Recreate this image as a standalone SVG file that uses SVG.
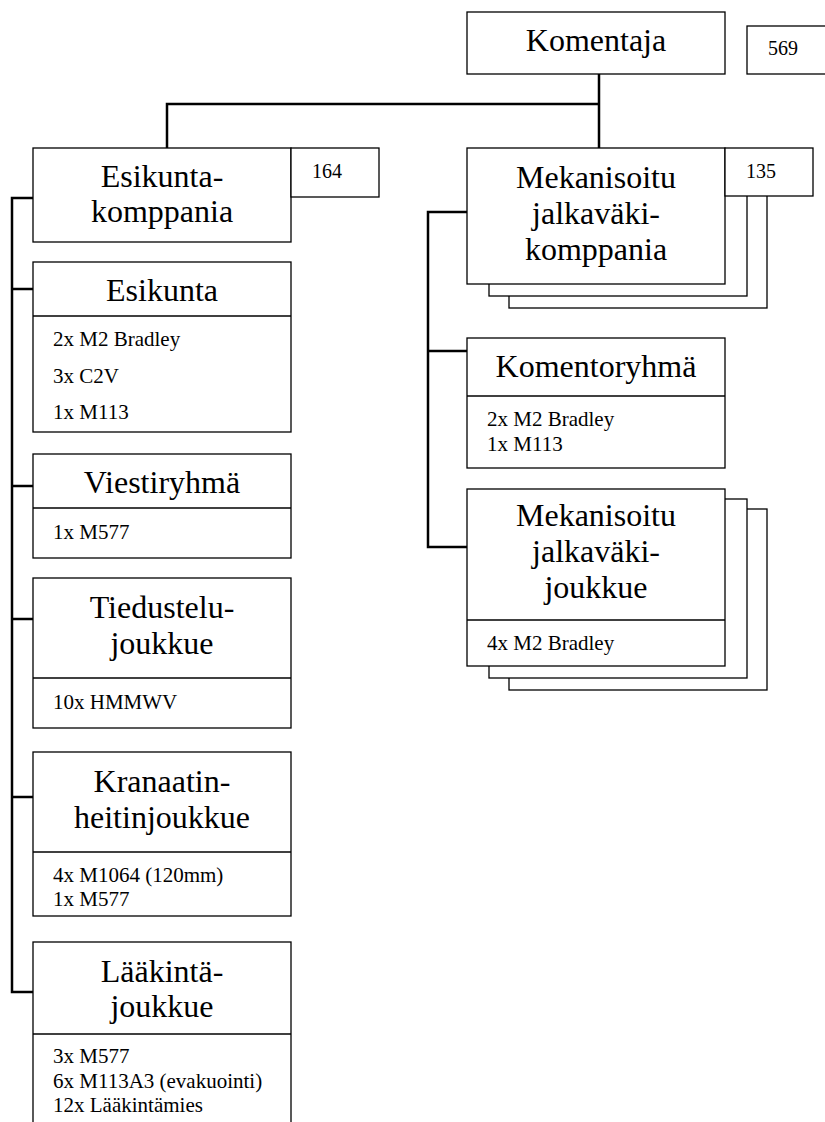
<svg xmlns="http://www.w3.org/2000/svg" width="825" height="1122" viewBox="0 0 825 1122">
<style>
.box{fill:#fff;stroke:#000;stroke-width:1.3}
.div{stroke:#000;stroke-width:1.3}
.con{fill:none;stroke:#000;stroke-width:2.5;stroke-linecap:square}
.t{font-family:"Liberation Serif","Times New Roman",serif;font-size:32px;text-anchor:middle;fill:#000}
.i{font-family:"Liberation Serif","Times New Roman",serif;font-size:21px;fill:#000}
.n{font-family:"Liberation Serif","Times New Roman",serif;font-size:20px;fill:#000}
</style>
<rect width="825" height="1122" fill="#fff"/>
<g id="connectors">
<path class="con" d="M599,74 V148 M167,104 H599 M167,104 V148"/>
<path class="con" d="M12,198 V992 M12,198 H33 M12,289 H33 M12,486 H33 M12,619 H33 M12,797 H33 M12,992 H33"/>
<path class="con" d="M428,212 V547 M428,212 H467 M428,351 H467 M428,547 H467"/>
</g>
<g id="komentaja">
<rect class="box" x="467" y="12" width="258" height="62"/>
<text class="t" x="596" y="51">Komentaja</text>
</g>
<g id="n569">
<rect class="box" x="747" y="26" width="88" height="48"/>
<text class="n" x="768" y="55">569</text>
</g>
<g id="esikuntakomppania">
<rect class="box" x="33" y="148" width="258" height="94"/>
<text class="t" x="162" y="187">Esikunta-</text>
<text class="t" x="162" y="222">komppania</text>
</g>
<g id="n164">
<rect class="box" x="291" y="148" width="88" height="49"/>
<text class="n" x="312" y="178">164</text>
</g>
<g id="mekkomppania">
<rect class="box" x="509" y="172" width="258" height="136"/>
<rect class="box" x="489" y="160" width="258" height="136"/>
<rect class="box" x="467" y="148" width="258" height="136"/>
<text class="t" x="596" y="188">Mekanisoitu</text>
<text class="t" x="596" y="224">jalkaväki-</text>
<text class="t" x="596" y="260">komppania</text>
</g>
<g id="n135">
<rect class="box" x="725" y="148" width="88" height="48"/>
<text class="n" x="746" y="178">135</text>
</g>
<g id="esikunta">
<rect class="box" x="33" y="262" width="258" height="170"/>
<line class="div" x1="33" y1="316" x2="291" y2="316"/>
<text class="t" x="162" y="301">Esikunta</text>
<text class="i" x="53" y="346">2x M2 Bradley</text>
<text class="i" x="53" y="383">3x C2V</text>
<text class="i" x="53" y="419">1x M113</text>
</g>
<g id="viestiryhma">
<rect class="box" x="33" y="454" width="258" height="104"/>
<line class="div" x1="33" y1="508" x2="291" y2="508"/>
<text class="t" x="162" y="493">Viestiryhmä</text>
<text class="i" x="53" y="539">1x M577</text>
</g>
<g id="tiedustelu">
<rect class="box" x="33" y="578" width="258" height="150"/>
<line class="div" x1="33" y1="678" x2="291" y2="678"/>
<text class="t" x="162" y="618">Tiedustelu-</text>
<text class="t" x="162" y="654">joukkue</text>
<text class="i" x="53" y="709">10x HMMWV</text>
</g>
<g id="kranaatin">
<rect class="box" x="33" y="752" width="258" height="164"/>
<line class="div" x1="33" y1="852" x2="291" y2="852"/>
<text class="t" x="162" y="792">Kranaatin-</text>
<text class="t" x="162" y="828">heitinjoukkue</text>
<text class="i" x="53" y="882">4x M1064 (120mm)</text>
<text class="i" x="53" y="906">1x M577</text>
</g>
<g id="laakinta">
<rect class="box" x="33" y="942" width="258" height="200"/>
<line class="div" x1="33" y1="1034" x2="291" y2="1034"/>
<text class="t" x="162" y="982">Lääkintä-</text>
<text class="t" x="162" y="1017">joukkue</text>
<text class="i" x="53" y="1063">3x M577</text>
<text class="i" x="53" y="1088">6x M113A3 (evakuointi)</text>
<text class="i" x="53" y="1112">12x Lääkintämies</text>
</g>
<g id="komentoryhma">
<rect class="box" x="467" y="338" width="258" height="130"/>
<line class="div" x1="467" y1="396" x2="725" y2="396"/>
<text class="t" x="596" y="377">Komentoryhmä</text>
<text class="i" x="487" y="426">2x M2 Bradley</text>
<text class="i" x="487" y="451">1x M113</text>
</g>
<g id="mekjoukkue">
<rect class="box" x="509" y="509" width="258" height="181"/>
<rect class="box" x="489" y="499" width="258" height="179"/>
<rect class="box" x="467" y="489" width="258" height="177"/>
<line class="div" x1="467" y1="620" x2="725" y2="620"/>
<text class="t" x="596" y="526">Mekanisoitu</text>
<text class="t" x="596" y="562">jalkaväki-</text>
<text class="t" x="596" y="598">joukkue</text>
<text class="i" x="487" y="650">4x M2 Bradley</text>
</g>
</svg>
